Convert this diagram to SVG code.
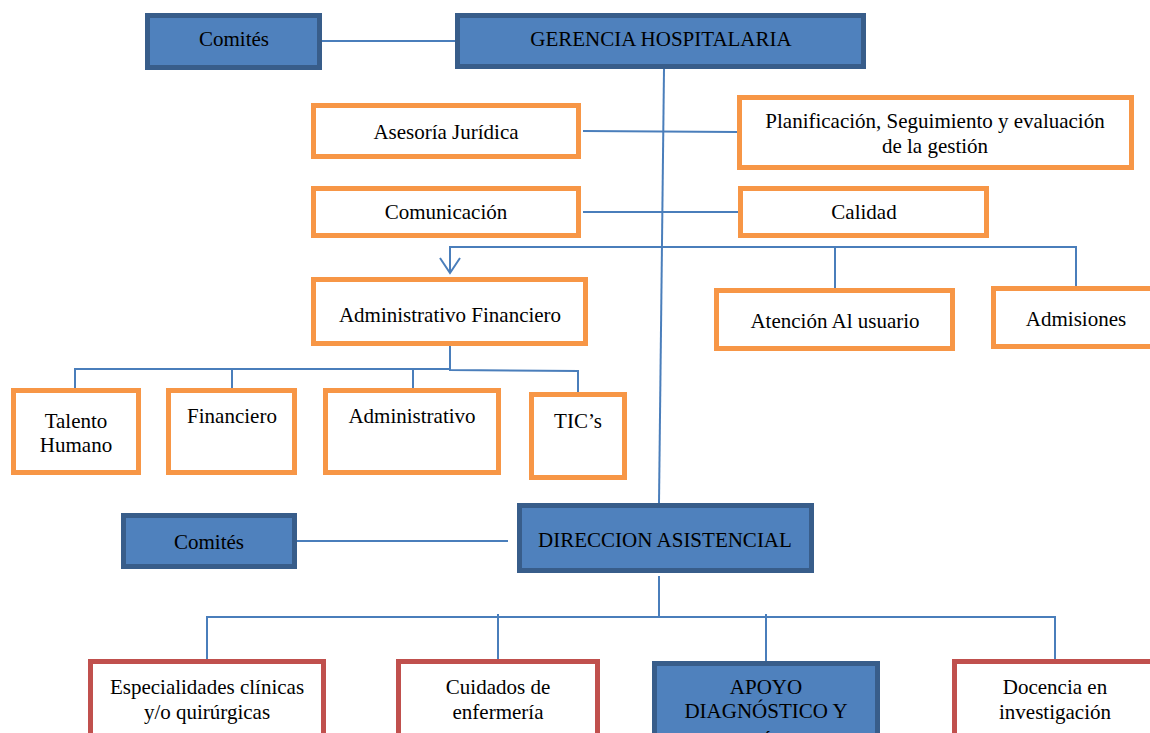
<svg xmlns="http://www.w3.org/2000/svg" width="1150" height="733" viewBox="0 0 1150 733">
<style>
text{font-family:"Liberation Serif","Times New Roman",serif;font-size:21px;fill:#000;text-anchor:middle}
.blue{fill:#4F81BD;stroke:#385D8A;stroke-width:5}
.org{fill:#fff;stroke:#F79646;stroke-width:5}
.red{fill:#fff;stroke:#C0504D;stroke-width:5}
.ln{fill:none;stroke:#4A7EBB;stroke-width:2}
</style>
<rect width="1150" height="733" fill="#fff"/>
<g id="connectors">
<line class="ln" x1="322" y1="41" x2="455" y2="41"/>
<line class="ln" x1="664" y1="69" x2="659" y2="503"/>
<line class="ln" x1="583" y1="131" x2="737" y2="132"/>
<line class="ln" x1="583" y1="212" x2="738" y2="212"/>
<polyline class="ln" points="450,273 450,247 1076,247 1076,286"/>
<line class="ln" x1="835" y1="247" x2="835" y2="288"/>
<polyline class="ln" points="440,258 450,273 460,258"/>
<polyline class="ln" points="450,346 450,370 578,371 578,392"/>
<polyline class="ln" points="450,369 75,369 75,388"/>
<line class="ln" x1="232" y1="369" x2="232" y2="388"/>
<line class="ln" x1="413" y1="369" x2="413" y2="388"/>
<line class="ln" x1="297" y1="541" x2="508" y2="541"/>
<line class="ln" x1="659" y1="576" x2="659" y2="617"/>
<polyline class="ln" points="207,659 207,617 1055,617 1055,659"/>
<line class="ln" x1="498" y1="614" x2="498" y2="659"/>
<line class="ln" x1="766" y1="614" x2="766" y2="661"/>
</g>
<g id="comites1"><rect class="blue" x="147.5" y="15.5" width="172" height="52"/><text x="234" y="46">Comités</text></g>
<g id="gerencia"><rect class="blue" x="457.5" y="15.5" width="406" height="51"/><text x="661" y="46">GERENCIA HOSPITALARIA</text></g>
<g id="asesoria"><rect class="org" x="313.5" y="105.5" width="265" height="51"/><text x="446" y="139">Asesoría Jurídica</text></g>
<g id="planificacion"><rect class="org" x="739.5" y="97.5" width="392" height="70"/><text x="935" y="128">Planificación, Seguimiento y evaluación</text><text x="935" y="153">de la gestión</text></g>
<g id="comunicacion"><rect class="org" x="313.5" y="188.5" width="265" height="47"/><text x="446" y="219">Comunicación</text></g>
<g id="calidad"><rect class="org" x="740.5" y="188.5" width="246" height="47"/><text x="864" y="219">Calidad</text></g>
<g id="admfin"><rect class="org" x="313.5" y="279.5" width="272" height="64"/><text x="450" y="322">Administrativo Financiero</text></g>
<g id="atencion"><rect class="org" x="716.5" y="290.5" width="236" height="58"/><text x="835" y="328">Atención Al usuario</text></g>
<g id="admisiones"><rect class="org" x="993.5" y="288.5" width="170" height="58"/><text x="1076" y="326">Admisiones</text></g>
<g id="talento"><rect class="org" x="13.5" y="390.5" width="125" height="82"/><text x="76" y="428">Talento</text><text x="76" y="452">Humano</text></g>
<g id="financiero"><rect class="org" x="168.5" y="390.5" width="126" height="82"/><text x="232" y="423">Financiero</text></g>
<g id="administrativo"><rect class="org" x="325.5" y="390.5" width="173" height="82"/><text x="412" y="423">Administrativo</text></g>
<g id="tics"><rect class="org" x="531.5" y="394.5" width="93" height="83"/><text x="578" y="428">TIC’s</text></g>
<g id="comites2"><rect class="blue" x="123.5" y="515.5" width="171" height="51"/><text x="209" y="549">Comités</text></g>
<g id="direccion"><rect class="blue" x="519.5" y="505.5" width="292" height="65"/><text x="665" y="547">DIRECCION ASISTENCIAL</text></g>
<g id="especialidades"><rect class="red" x="90.5" y="661.5" width="233" height="100"/><text x="207" y="694">Especialidades clínicas</text><text x="207" y="719">y/o quirúrgicas</text></g>
<g id="cuidados"><rect class="red" x="398.5" y="661.5" width="199" height="100"/><text x="498" y="694">Cuidados de</text><text x="498" y="719">enfermería</text></g>
<g id="apoyo"><rect class="blue" x="654.5" y="663.5" width="223" height="100"/><text x="766" y="694">APOYO</text><text x="766" y="718">DIAGNÓSTICO Y</text><text x="766" y="749">TERAPÉUTICO</text></g>
<g id="docencia"><rect class="red" x="954.5" y="661.5" width="200" height="100"/><text x="1055" y="694">Docencia en</text><text x="1055" y="719">investigación</text></g>
</svg>
